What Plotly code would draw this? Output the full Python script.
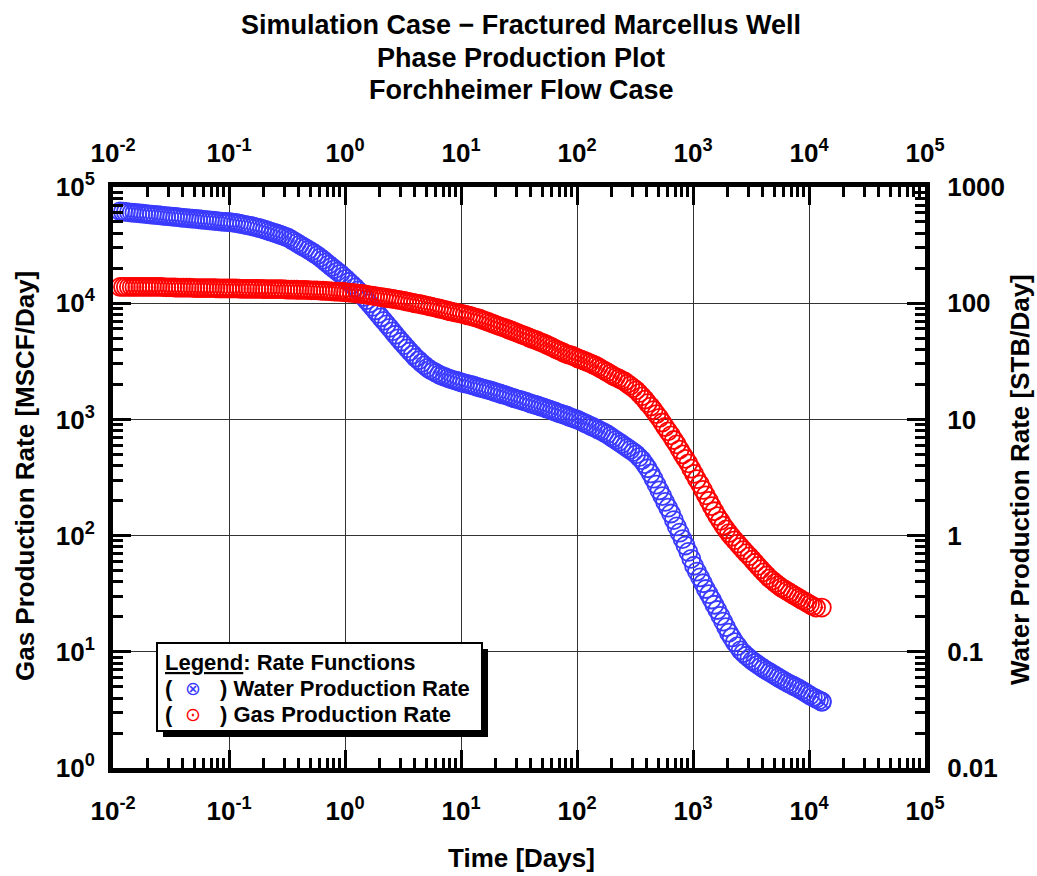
import plotly.graph_objects as go

# ---------------- data ----------------
time_days = [
    0.0115, 0.0122, 0.0129, 0.0137, 0.0145, 0.0153, 0.0162, 0.0172, 0.0182, 0.0193,
    0.0204, 0.0216, 0.0229, 0.0243, 0.0257, 0.0272, 0.0288, 0.0306, 0.0324, 0.0343,
    0.0363, 0.0385, 0.0407, 0.0432, 0.0457, 0.0484, 0.0513, 0.0543, 0.0575, 0.0610,
    0.0646, 0.0684, 0.0724, 0.0767, 0.0813, 0.0861, 0.0912, 0.0966,
    0.102, 0.108, 0.115, 0.122, 0.129, 0.137, 0.145, 0.153, 0.162, 0.172,
    0.182, 0.193, 0.204, 0.216, 0.229, 0.243, 0.257, 0.272, 0.288, 0.306,
    0.324, 0.343, 0.363, 0.385, 0.407, 0.432, 0.457, 0.484, 0.513, 0.543,
    0.575, 0.610, 0.646, 0.684, 0.724, 0.767, 0.813, 0.861, 0.912, 0.966,
    1.02, 1.08, 1.15, 1.22, 1.29, 1.37, 1.45, 1.53, 1.62, 1.72,
    1.82, 1.93, 2.04, 2.16, 2.29, 2.43, 2.57, 2.72, 2.88, 3.06,
    3.24, 3.43, 3.63, 3.85, 4.07, 4.32, 4.57, 4.84, 5.13, 5.43,
    5.75, 6.10, 6.46, 6.84, 7.24, 7.67, 8.13, 8.61, 9.12, 9.66,
    10.2, 10.8, 11.5, 12.2, 12.9, 13.7, 14.5, 15.3, 16.2, 17.2,
    18.2, 19.3, 20.4, 21.6, 22.9, 24.3, 25.7, 27.2, 28.8, 30.6,
    32.4, 34.3, 36.3, 38.5, 40.7, 43.2, 45.7, 48.4, 51.3, 54.3,
    57.5, 61.0, 64.6, 68.4, 72.4, 76.7, 81.3, 86.1, 91.2, 96.6,
    102, 108, 115, 122, 129, 137, 145, 153, 162, 172,
    182, 193, 204, 216, 229, 243, 257, 272, 288, 306,
    324, 343, 363, 385, 407, 432, 457, 484, 513, 543,
    575, 610, 646, 684, 724, 767, 813, 861, 912, 966,
    1020, 1080, 1150, 1220, 1290, 1370, 1450, 1530, 1620, 1720,
    1820, 1930, 2040, 2160, 2290, 2430, 2570, 2720, 2880, 3060,
    3240, 3430, 3630, 3850, 4070, 4320, 4570, 4840, 5130, 5430,
    5750, 6100, 6460, 6840, 7240, 7670, 8130, 8610, 9120, 9660,
    10200, 10800, 11500, 12200, 12900,
]

gas_rate_mscf = [
    13800, 13800, 13800, 13800, 13800, 13800, 13800, 13800, 13800, 13800,
    13800, 13800, 13800, 13800, 13800, 13750, 13700, 13700, 13700, 13650,
    13600, 13600, 13600, 13600, 13600, 13550, 13500, 13500, 13500, 13500,
    13500, 13500, 13500, 13450, 13400, 13400, 13400, 13400,
    13400, 13400, 13400, 13350, 13300, 13300, 13300, 13300, 13300, 13300,
    13300, 13250, 13200, 13200, 13200, 13200, 13200, 13200, 13200, 13150,
    13100, 13100, 13100, 13050, 13000, 13000, 13000, 12950, 12900, 12900,
    12900, 12850, 12800, 12750, 12700, 12650, 12600, 12580, 12550, 12480,
    12400, 12330, 12250, 12180, 12100, 12030, 11950, 11830, 11700, 11600,
    11500, 11400, 11300, 11200, 11100, 11000, 10900, 10800, 10700, 10580,
    10450, 10330, 10200, 10080, 9950, 9850, 9750, 9630, 9500, 9380,
    9250, 9130, 9000, 8880, 8750, 8630, 8500, 8390, 8280, 8190,
    8100, 7980, 7850, 7730, 7600, 7480, 7350, 7200, 7050, 6900,
    6750, 6600, 6450, 6330, 6200, 6080, 5950, 5830, 5700, 5560,
    5420, 5310, 5200, 5080, 4950, 4850, 4750, 4630, 4520, 4410,
    4300, 4180, 4050, 3950, 3850, 3750, 3650, 3590, 3530, 3440,
    3350, 3280, 3200, 3120, 3050, 2970, 2900, 2810, 2720, 2630,
    2550, 2460, 2380, 2310, 2250, 2180, 2120, 2030, 1950, 1860,
    1780, 1680, 1580, 1480, 1380, 1290, 1200, 1110, 1030, 940,
    860, 790, 730, 665, 610, 550, 500, 458, 419, 377,
    340, 306, 276, 247, 222, 199, 179, 162, 147, 134,
    122, 113, 105, 97.7, 91.0, 85.3, 80.0, 75.1, 70.6, 66.3,
    62.2, 58.4, 54.8, 51.4, 48.3, 45.5, 42.9, 41.0, 39.1, 37.4,
    35.8, 34.6, 33.4, 32.3, 31.2, 30.1, 29.1, 28.1, 27.2, 26.3,
    25.5, 24.7, 24.0,
]

water_rate_stb = [
    617, 613, 610, 606, 603, 599, 596, 592, 589, 585,
    582, 578, 575, 572, 569, 565, 562, 559, 556, 553,
    550, 546, 543, 540, 537, 534, 531, 528, 525, 522,
    519, 516, 513, 510, 507, 504, 501, 500,
    499, 494, 490, 484, 479, 473, 468, 462, 457, 450,
    444, 436, 429, 421, 413, 405, 398, 390, 383, 374,
    366, 354, 342, 330, 319, 308, 298, 288, 278, 268,
    258, 247, 236, 225, 215, 205, 196, 187, 179, 170,
    162, 153, 145, 137, 129, 121, 113, 106, 99.5, 92.9,
    86.7, 80.9, 75.5, 70.5, 65.8, 61.4, 57.3, 53.5, 49.9, 46.6,
    43.6, 40.9, 38.4, 36.1, 34.0, 32.3, 30.6, 29.2, 27.8, 26.8,
    25.9, 25.1, 24.3, 23.7, 23.2, 22.7, 22.2, 21.8, 21.5, 21.1,
    20.7, 20.4, 20.1, 19.8, 19.5, 19.1, 18.8, 18.5, 18.2, 17.9,
    17.7, 17.3, 17.0, 16.7, 16.4, 16.1, 15.8, 15.5, 15.2, 14.9,
    14.7, 14.4, 14.2, 13.9, 13.6, 13.4, 13.2, 12.9, 12.7, 12.4,
    12.2, 11.9, 11.7, 11.4, 11.2, 11.0, 10.8, 10.5, 10.3, 10.1,
    9.89, 9.62, 9.35, 9.10, 8.85, 8.61, 8.38, 8.15, 7.93, 7.69,
    7.46, 7.17, 6.90, 6.64, 6.38, 6.14, 5.90, 5.68, 5.46, 5.23,
    5.01, 4.73, 4.47, 4.12, 3.80, 3.43, 3.09, 2.75, 2.45, 2.19,
    1.95, 1.74, 1.55, 1.36, 1.20, 1.06, 0.933, 0.822, 0.724, 0.631,
    0.550, 0.490, 0.437, 0.389, 0.347, 0.313, 0.282, 0.254, 0.229, 0.204,
    0.182, 0.163, 0.146, 0.133, 0.121, 0.112, 0.103, 0.0976, 0.0925, 0.0880,
    0.0838, 0.0805, 0.0773, 0.0743, 0.0715, 0.0690, 0.0667, 0.0644, 0.0622, 0.0601,
    0.0581, 0.0562, 0.0543, 0.0528, 0.0513, 0.0498, 0.0484, 0.0467, 0.0451, 0.0436,
    0.0421, 0.0408, 0.0395, 0.0383, 0.0372,
]

x_tick_vals = [0.01, 0.1, 1, 10, 100, 1000, 10000, 100000]
x_tick_text = ["10<sup>-2</sup>", "10<sup>-1</sup>", "10<sup>0</sup>", "10<sup>1</sup>",
               "10<sup>2</sup>", "10<sup>3</sup>", "10<sup>4</sup>", "10<sup>5</sup>"]
gas_tick_vals = [1, 10, 100, 1000, 10000, 100000]
gas_tick_text = ["10<sup>0</sup>", "10<sup>1</sup>", "10<sup>2</sup>", "10<sup>3</sup>",
                 "10<sup>4</sup>", "10<sup>5</sup>"]
water_tick_vals = [0.01, 0.1, 1, 10, 100, 1000]
water_tick_text = ["0.01", "0.1", "1", "10", "100", "1000"]

title_lines = ["Simulation Case \u2212 Fractured Marcellus Well",
               "Phase Production Plot",
               "Forchheimer Flow Case"]

# ---------------- styling ----------------
FONT = "Liberation Sans, Arial, sans-serif"
BLUE = "rgb(58,58,255)"
RED = "rgb(255,0,0)"

W, H = 1037, 876
L, R, T, B = 113, 925, 187, 768   # plot-area pixel box


def px_x(p):
    return (p - L) / (R - L)


def px_y(p):
    return (B - p) / (B - T)


def minor_vals(e0, e1):
    return [m * 10.0 ** e for e in range(e0, e1) for m in range(2, 10)]


MSIZE = 18
MLINE = 1.8

fig = go.Figure()

# water on the base subplot (right axis "y"), gas on the overlay (left axis "y2") so gas sits on top
fig.add_trace(go.Scatter(
    x=time_days, y=water_rate_stb, mode="markers", name="Water Production Rate",
    marker=dict(symbol="circle-open", size=MSIZE, color=BLUE, line=dict(width=MLINE, color=BLUE)),
    xaxis="x", yaxis="y", showlegend=False,
))
fig.add_trace(go.Scatter(
    x=time_days[-1:], y=water_rate_stb[-1:], mode="markers",
    marker=dict(symbol="circle-x-open", size=MSIZE, color=BLUE, line=dict(width=MLINE, color=BLUE)),
    xaxis="x2", yaxis="y", showlegend=False, hoverinfo="skip",
))
fig.add_trace(go.Scatter(
    x=time_days, y=gas_rate_mscf, mode="markers", name="Gas Production Rate",
    marker=dict(symbol="circle-open", size=MSIZE, color=RED, line=dict(width=MLINE, color=RED)),
    xaxis="x", yaxis="y2", showlegend=False,
))
fig.add_trace(go.Scatter(
    x=time_days[-1:], y=gas_rate_mscf[-1:], mode="markers",
    marker=dict(symbol="circle-open-dot", size=MSIZE, color=RED, line=dict(width=MLINE, color=RED)),
    xaxis="x", yaxis="y2", showlegend=False, hoverinfo="skip",
))

tickfont = dict(family=FONT, size=26, color="black", weight="bold")
common = dict(
    type="log", showline=True, linewidth=5, linecolor="black",
    ticks="inside", ticklen=18, tickwidth=3, tickcolor="black",
    zeroline=False, tickmode="array", tickfont=tickfont,
)


def minor(e0, e1):
    return dict(tickmode="array", tickvals=minor_vals(e0, e1), ticks="inside",
                ticklen=10, tickwidth=3, tickcolor="black", showgrid=False)


fig.update_layout(
    width=W, height=H,
    margin=dict(l=L, r=W - R, t=T, b=H - B),
    paper_bgcolor="white", plot_bgcolor="white",
    showlegend=False,
    font=dict(family=FONT, color="black"),
    xaxis=dict(
        **common, range=[-2, 5], tickvals=x_tick_vals, ticktext=x_tick_text,
        showgrid=True, gridcolor="#333333", gridwidth=1,
        ticklabelstandoff=16, minor=minor(-2, 5),
    ),
    xaxis2=dict(
        **common, range=[-2, 5], tickvals=x_tick_vals, ticktext=x_tick_text,
        overlaying="x", side="top", anchor="y", showgrid=False,
        ticklabelstandoff=10, minor=minor(-2, 5),
    ),
    yaxis=dict(
        **common, range=[-2, 3], tickvals=water_tick_vals, ticktext=water_tick_text,
        side="right", anchor="x",
        showgrid=True, gridcolor="#333333", gridwidth=1,
        ticklabelstandoff=12, minor=minor(-2, 3),
    ),
    yaxis2=dict(
        **common, range=[0, 5], tickvals=gas_tick_vals, ticktext=gas_tick_text,
        overlaying="y", side="left", anchor="x", showgrid=False,
        ticklabelstandoff=8, minor=minor(0, 5),
    ),
)

# legend box with drop shadow
fig.add_shape(type="rect", xref="paper", yref="paper", layer="above",
              x0=px_x(163), x1=px_x(488), y0=px_y(737), y1=px_y(649),
              fillcolor="black", line=dict(width=0))
fig.add_shape(type="rect", xref="paper", yref="paper", layer="above",
              x0=px_x(157), x1=px_x(482), y0=px_y(731), y1=px_y(643),
              fillcolor="white", line=dict(width=2, color="black"))

annotations = []
lg_font = dict(family=FONT, size=22, color="black", weight="bold")
annotations.append(dict(text="<u>Legend</u>: Rate Functions", x=px_x(163), y=px_y(662),
                        xanchor="left", yanchor="middle", font=lg_font))
annotations.append(dict(text="(", x=px_x(163), y=px_y(688), xanchor="left", yanchor="middle", font=lg_font))
annotations.append(dict(text="(", x=px_x(163), y=px_y(714), xanchor="left", yanchor="middle", font=lg_font))
annotations.append(dict(text="\u2297", x=px_x(193), y=px_y(688), xanchor="center", yanchor="middle",
                        font=dict(family="DejaVu Sans", size=19, color=BLUE)))
annotations.append(dict(text="\u2299", x=px_x(193), y=px_y(714), xanchor="center", yanchor="middle",
                        font=dict(family="DejaVu Sans", size=19, color=RED)))
annotations.append(dict(text=") Water Production Rate", x=px_x(218), y=px_y(688),
                        xanchor="left", yanchor="middle", font=lg_font))
annotations.append(dict(text=") Gas Production Rate", x=px_x(218), y=px_y(714),
                        xanchor="left", yanchor="middle", font=lg_font))

# titles
title_font = dict(family=FONT, size=27, color="black", weight="bold")
for line, ypx in zip(title_lines, [25, 58, 90]):
    annotations.append(dict(text=line, x=px_x(521), y=px_y(ypx), xanchor="center",
                            yanchor="middle", font=title_font))

axis_font = dict(family=FONT, size=26, color="black", weight="bold")
annotations.append(dict(text="Time [Days]", x=px_x(521), y=px_y(858), xanchor="center",
                        yanchor="middle", font=axis_font))
annotations.append(dict(text="Gas Production Rate [MSCF/Day]", x=px_x(25), y=px_y(476),
                        xanchor="center", yanchor="middle", textangle=-90, font=axis_font))
annotations.append(dict(text="Water Production Rate [STB/Day]", x=px_x(1020), y=px_y(480),
                        xanchor="center", yanchor="middle", textangle=-90, font=axis_font))

for a in annotations:
    a.update(xref="paper", yref="paper", showarrow=False)
fig.update_layout(annotations=annotations)

fig.write_html("out.html", config={"displayModeBar": False})
